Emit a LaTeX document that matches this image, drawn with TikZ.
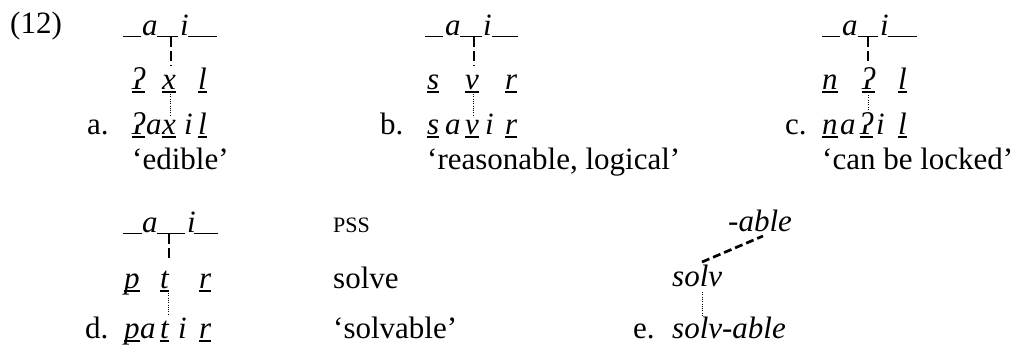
\documentclass[tikz,border=0pt]{standalone}
\usepackage{fontspec}
\setmainfont{Liberation Serif}
\begin{document}
\begin{tikzpicture}[x=1pt,y=-1pt,
  every node/.style={font=\fontsize{31}{36}\selectfont},
  txt/.style={inner sep=0pt,anchor=base west},
  it/.style={txt,font=\fontsize{31}{36}\selectfont\itshape},
  sc/.style={txt,font=\fontsize{22}{26}\selectfont},
  us/.style={line width=1.4pt},
  dsh/.style={line width=2.7pt,dash pattern=on 10pt off 4pt},
  dot/.style={line width=0.9pt,dash pattern=on 1pt off 1.3pt}]
\useasboundingbox (0,0) rectangle (1019,349);
\newcommand\undl[1]{\draw[us] ([yshift=-3pt]#1.base west) -- ([yshift=-3pt]#1.base east);}
% ---------- block a ----------
\node[txt] (n12) at (10,33) {(12)};
\draw[us] (123,36.5) -- (141,36.5);
\node[it] (aA) at (142,35) {a};
\draw[us] (157,36.5) -- (178,36.5);
\node[it] (iA) at (180,35) {i};
\draw[us] (188,36.5) -- (217,36.5);
\coordinate (mA) at (171,37);
\node[it] (kA1) at (132,89) {ʔ};
\node[it] (kA2) at (162,89) {x};
\node[it] (kA3) at (198,89) {l};
\undl{kA1}\undl{kA2}\undl{kA3}
\draw[dsh] (mA) -- (mA |- 0,66);
\node[txt] (la) at (87,134) {a.};
\node[it] (wA1) at (132,134) {ʔ};
\node[it] (wA2) at (146,134) {a};
\node[it] (wA3) at (162,134) {x};
\node[it] (wA4) at (184,134) {i};
\node[it] (wA5) at (198,134) {l};
\undl{wA1}\undl{wA3}\undl{wA5}
\coordinate (dA1) at (170,94);
\coordinate (dA2) at (170,116);
\draw[dot] (dA1) -- (dA2);
\node[txt] (gA) at (132,169) {‘edible’};
% ---------- block b ----------
\draw[us] (425,36.5) -- (443,36.5);
\node[it] (aB) at (445,35) {a};
\draw[us] (460,36.5) -- (482,36.5);
\node[it] (iB) at (483,35) {i};
\draw[us] (492,36.5) -- (518,36.5);
\coordinate (mB) at (474,37);
\node[it] (kB1) at (427,89) {s};
\node[it] (kB2) at (465,89) {v};
\node[it] (kB3) at (505,89) {r};
\undl{kB1}\undl{kB2}\undl{kB3}
\draw[dsh] (mB) -- (mB |- 0,66);
\node[txt] (lb) at (380,134) {b.};
\node[it] (wB1) at (427,134) {s};
\node[it] (wB2) at (445,134) {a};
\node[it] (wB3) at (465,134) {v};
\node[it] (wB4) at (485,134) {i};
\node[it] (wB5) at (505,134) {r};
\undl{wB1}\undl{wB3}\undl{wB5}
\coordinate (dB1) at (473,94);
\coordinate (dB2) at (473,117);
\draw[dot] (dB1) -- (dB2);
\node[txt] (gB) at (427,169) {‘reasonable, logical’};
% ---------- block c ----------
\draw[us] (822,36.5) -- (840,36.5);
\node[it] (aC) at (842,35) {a};
\draw[us] (858,36.5) -- (878,36.5);
\node[it] (iC) at (880,35) {i};
\draw[us] (888,36.5) -- (917,36.5);
\coordinate (mC) at (868,37);
\node[it] (kC1) at (822,89) {n};
\node[it] (kC2) at (862,89) {ʔ};
\node[it] (kC3) at (898,89) {l};
\undl{kC1}\undl{kC2}\undl{kC3}
\draw[dsh] (mC) -- (mC |- 0,62);
\node[txt] (lc) at (785,134) {c.};
\node[it] (wC1) at (822,134) {n};
\node[it] (wC2) at (840,134) {a};
\node[it] (wC3) at (860,134) {ʔ};
\node[it] (wC4) at (876,134) {i};
\node[it] (wC5) at (898,134) {l};
\undl{wC1}\undl{wC3}\undl{wC5}
\coordinate (dC1) at (868,95);
\coordinate (dC2) at (868,111);
\draw[dot] (dC1) -- (dC2);
\node[txt] (gC) at (822,169) {‘can be locked’};
% ---------- block d ----------
\draw[us] (123,233.5) -- (142,233.5);
\node[it] (aD) at (142,232) {a};
\draw[us] (157,233.5) -- (185,233.5);
\node[it] (iD) at (187,232) {i};
\draw[us] (194,233.5) -- (218,233.5);
\coordinate (mD) at (169,234);
\node[it] (kD1) at (124,288) {p};
\node[it] (kD2) at (160,288) {t};
\node[it] (kD3) at (199,288) {r};
\undl{kD1}\undl{kD2}\undl{kD3}
\draw[dsh] (mD) -- (mD |- 0,261);
\node[txt] (ld) at (85,338) {d.};
\node[it] (wD1) at (124,338) {p};
\node[it] (wD2) at (140,338) {a};
\node[it] (wD3) at (160,338) {t};
\node[it] (wD4) at (178,338) {i};
\node[it] (wD5) at (199,338) {r};
\undl{wD1}\undl{wD3}\undl{wD5}
\coordinate (dD1) at (168,293);
\coordinate (dD2) at (168,314);
\draw[dot] (dD1) -- (dD2);
% ---------- PSS column ----------
\node[sc] (pss) at (333,232) {PSS};
\node[txt] (solve) at (333,288) {solve};
\node[txt] (solvable) at (333,338) {‘solvable’};
% ---------- block e ----------
\node[it] (able) at (728,231) {-able};
\node[it] (solv) at (672,286) {solv};
\node[txt] (le) at (633,338) {e.};
\node[it] (solvable2) at (672,338) {solv-able};
\coordinate (eS) at (702,262);
\coordinate (eA) at (763,236);
\draw[line width=2.7pt,dash pattern=on 8pt off 4pt] (eS) -- (eA);
\coordinate (eD1) at (702,292);
\coordinate (eD2) at (702,317);
\draw[dot] (eD1) -- (eD2);
\end{tikzpicture}
\end{document}
